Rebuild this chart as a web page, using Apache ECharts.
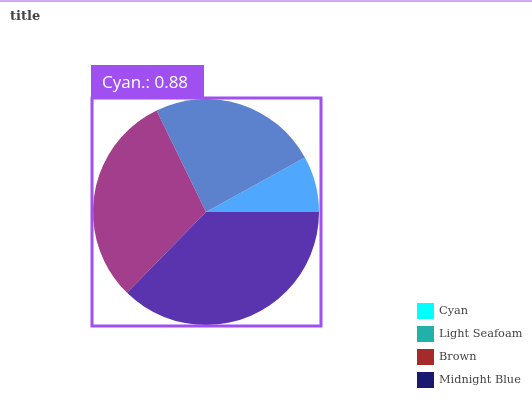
<!DOCTYPE html>
<html>
<head>
<meta charset="utf-8">
<script src="https://cdn.jsdelivr.net/npm/echarts@6/dist/echarts.min.js"></script>
<style>
  html, body { margin: 0; padding: 0; background: #fff; }
  #chart { width: 532px; height: 400px; }
</style>
</head>
<body>
<div id="chart"></div>
<script>
// pie data (counter-clockwise from 3 o'clock)
const names = ["Cyan", "Light Seafoam", "Brown", "Midnight Blue"];
const values = [0.88, 2.65, 3.34, 4.09];
// legend keeps the plain colours, slices are shown under the purple highlight
const legendColors = ["#00ffff", "#20b2aa", "#a52a2a", "#191970"];
const sliceColors = ["#4fa8fd", "#5c81cd", "#a23e8b", "#5a33ae"];

const chart = echarts.init(document.getElementById("chart"));

chart.setOption({
  animation: false,
  title: {
    text: "title",
    left: 5,
    top: 5,
    textStyle: { fontFamily: "DejaVu Serif", fontWeight: "bold", fontSize: 13, color: "#444" },
  },
  legend: {
    orient: "vertical",
    left: 412,
    top: 298,
    itemWidth: 17,
    itemHeight: 16,
    itemGap: 7,
    icon: "rect",
    textStyle: { fontFamily: "DejaVu Serif", fontSize: 11.3, color: "#444" },
    data: names.map((n, i) => ({ name: n, itemStyle: { color: legendColors[i] } })),
  },
  graphic: [
    // thin top strip
    { type: "rect", shape: { x: 0, y: 0, width: 532, height: 2 }, style: { fill: "#d0a8f2" } },
    // highlight frame and label
    {
      type: "rect",
      z: 10,
      shape: { x: 92, y: 98, width: 229, height: 228 },
      style: { fill: "none", stroke: "#a050f0", lineWidth: 3 },
    },
    {
      type: "rect",
      z: 10,
      shape: { x: 91, y: 65, width: 113, height: 32 },
      style: { fill: "#a050f0" },
    },
    {
      type: "text",
      z: 11,
      x: 102,
      y: 83,
      style: {
        text: names[0] + ".: " + values[0],
        fill: "#fff",
        fontFamily: "Open Sans",
        fontSize: 17,
        verticalAlign: "middle",
      },
    },
  ],
  series: [
    {
      type: "pie",
      center: [206, 212],
      radius: 113,
      startAngle: 0,
      clockwise: false,
      label: { show: false },
      labelLine: { show: false },
      emphasis: { disabled: true },
      itemStyle: { borderWidth: 0 },
      data: names.map((n, i) => ({ name: n, value: values[i], itemStyle: { color: sliceColors[i] } })),
    },
  ],
});
</script>
</body>
</html>
